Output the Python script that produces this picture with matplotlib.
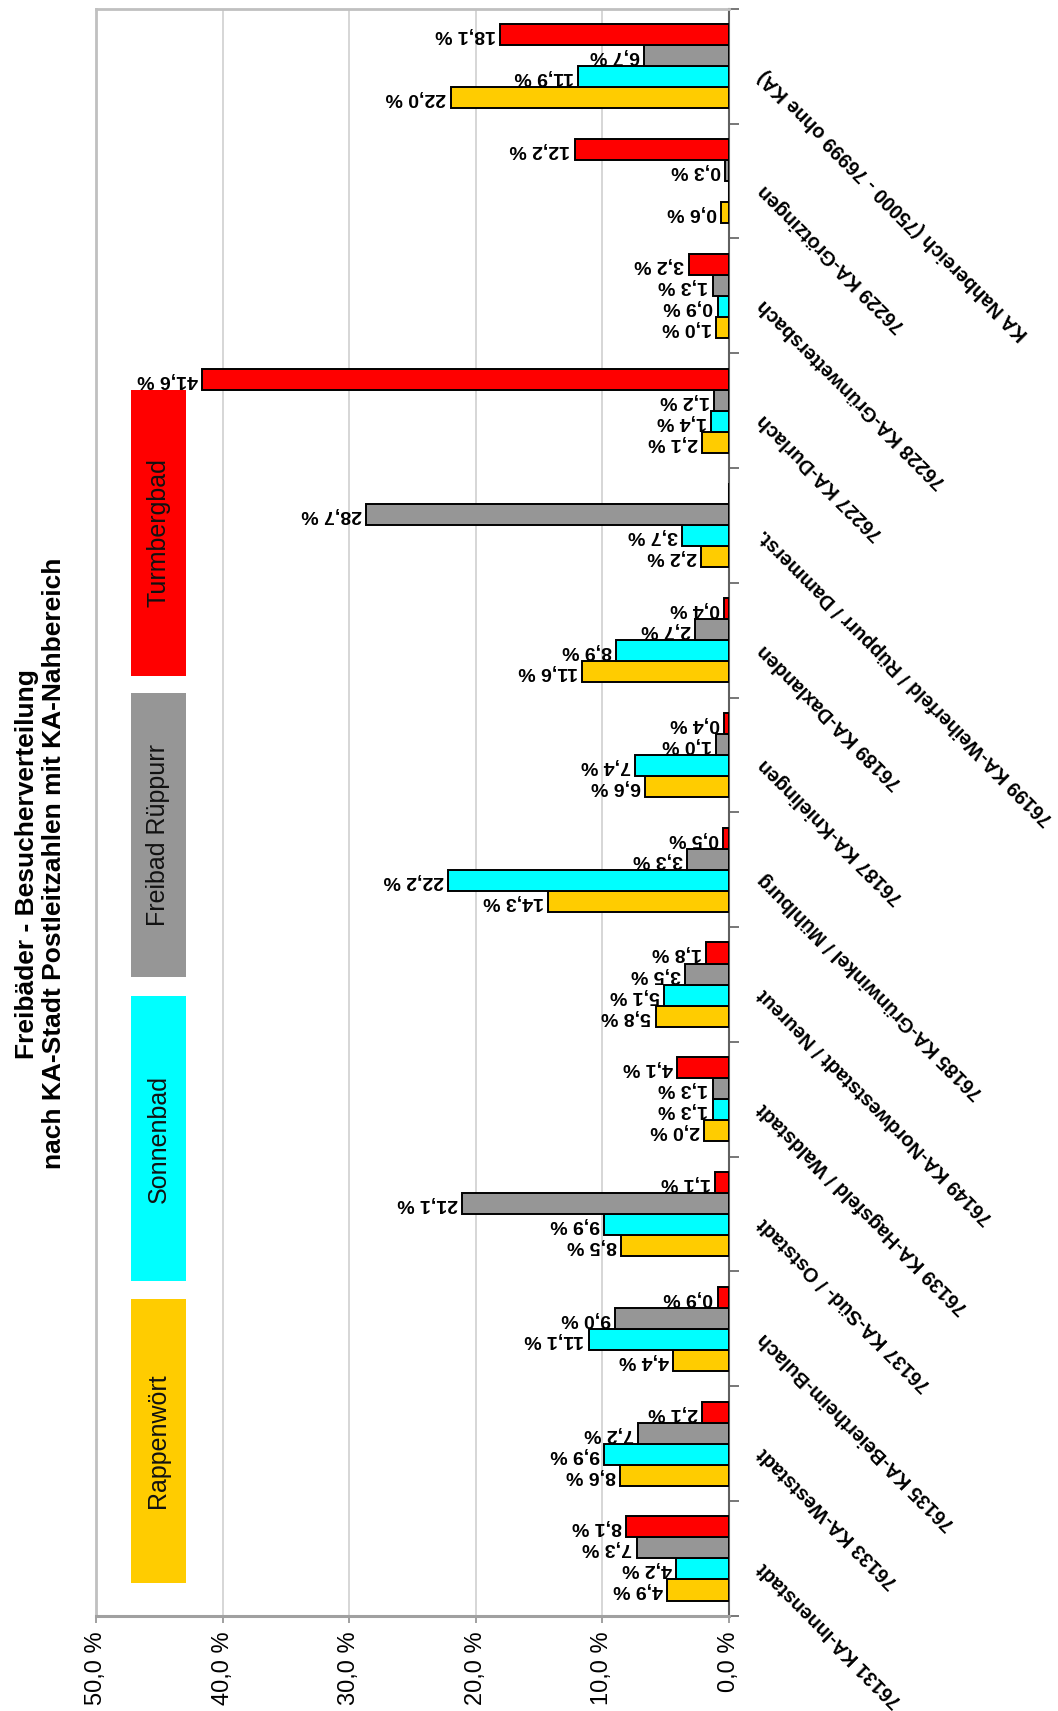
import numpy as np
import matplotlib
matplotlib.use("Agg")
import matplotlib.pyplot as plt
from matplotlib.patches import Rectangle

plt.rcParams['font.family'] = ['Liberation Sans', 'DejaVu Sans']

# categories from bottom to top (chart is drawn turned on its side)
categories = [
    "76131 KA-Innenstadt",
    "76133 KA-Weststadt",
    "76135 KA-Beiertheim-Bulach",
    "76137 KA-Süd- / Oststadt",
    "76139 KA-Hagsfeld / Waldstadt",
    "76149 KA-Nordweststadt / Neureut",
    "76185 KA-Grünwinkel / Mühlburg",
    "76187 KA-Knielingen",
    "76189 KA-Daxlanden",
    "76199 KA-Weiherfeld / Rüppurr / Dammerst.",
    "76227 KA-Durlach",
    "76228 KA-Grünwettersbach",
    "76229 KA-Grötzingen",
    "KA Nahbereich (75000 - 76999 ohne KA)",
]
rappenwoert = [4.9, 8.6, 4.4, 8.5, 2.0, 5.8, 14.3, 6.6, 11.6, 2.2, 2.1, 1.0, 0.6, 22.0]
sonnenbad = [4.2, 9.9, 11.1, 9.9, 1.3, 5.1, 22.2, 7.4, 8.9, 3.7, 1.4, 0.9, np.nan, 11.9]
rueppurr = [7.3, 7.2, 9.0, 21.1, 1.3, 3.5, 3.3, 1.0, 2.7, 28.7, 1.2, 1.3, 0.3, 6.7]
turmberg = [8.1, 2.1, 0.9, 1.1, 4.1, 1.8, 0.5, 0.4, 0.4, np.nan, 41.6, 3.2, 12.2, 18.1]

series = [
    ("Rappenwört", rappenwoert, "#FFCC00"),
    ("Sonnenbad", sonnenbad, "#00FFFF"),
    ("Freibad Rüppurr", rueppurr, "#969696"),
    ("Turmbergbad", turmberg, "#FF0000"),
]
xticks = [0, 10, 20, 30, 40, 50]

W, H = 968.0, 1565.0  # frame used for measuring positions


def fx(px):
    return px / W


def fy(py):
    return 1 - py / H


fig = plt.figure(figsize=(10.58, 17.11), dpi=100)
ax = fig.add_axes([fx(88), fy(1478), fx(667) - fx(88), fy(8) - fy(1478)])

y = np.arange(len(categories))
bh = 0.183
for i, (name, vals, col) in enumerate(series):
    off = (i - 1.5) * bh
    v = np.array(vals, dtype=float)
    ax.barh(y + off, np.nan_to_num(v), height=bh, color=col,
            edgecolor="black", linewidth=1.4, zorder=3)
    for yi, val in zip(y, v):
        if np.isnan(val):
            continue
        ax.annotate(f"{val:.1f}".replace(".", ",") + " %", xy=(val, yi + off),
                    xytext=(-3, 0), textcoords="offset points",
                    rotation=180, rotation_mode="anchor", ha="left", va="center",
                    fontsize=14, fontweight="bold", zorder=4)

ax.set_xlim(50, 0)
ax.set_ylim(-0.5, len(categories) - 0.5)
ax.set_xticks(xticks)
ax.set_xticklabels([f"{t:.1f}".replace(".", ",") + " %" for t in xticks],
                   rotation=90, fontsize=17)
ax.tick_params(axis="x", direction="out", length=5, width=1.2, color="#909090", pad=6)
ax.grid(axis="x", color="#d0d0d0", linewidth=1.2, zorder=0)

ax.yaxis.tick_right()
ax.set_yticks(np.arange(-0.5, len(categories), 1.0))
ax.set_yticklabels([])
ax.tick_params(axis="y", direction="out", length=7, width=1.2, color="#606060")

for s in ("left", "top"):
    ax.spines[s].set_color("#c0c0c0")
    ax.spines[s].set_linewidth(2)
ax.spines["bottom"].set_color("#a0a0a0")
ax.spines["bottom"].set_linewidth(2.2)
ax.spines["right"].set_color("#606060")
ax.spines["right"].set_linewidth(1.5)

for yi, cat in zip(y, categories):
    ax.annotate(cat, xy=(1, yi), xycoords=("axes fraction", "data"),
                xytext=(23, -5), textcoords="offset points",
                rotation=135, rotation_mode="anchor", ha="right", va="center",
                fontsize=14.2, fontweight="bold", annotation_clip=False)

# legend boxes
boxes = [(1188, 1448), (911, 1172), (634, 894), (357, 618)]
for (name, vals, col), (top, bot) in zip(series, boxes):
    fig.patches.append(Rectangle((fx(120), fy(bot)), fx(170) - fx(120), fy(top) - fy(bot),
                                 transform=fig.transFigure, facecolor=col,
                                 edgecolor="none", zorder=5))
    fig.text(fx(145), (fy(top) + fy(bot)) / 2, name, rotation=90,
             ha="center", va="center", fontsize=18, color="#111111", zorder=6)

fig.text(fx(37), fy(790), "Freibäder - Besucherverteilung\nnach KA-Stadt Postleitzahlen mit KA-Nahbereich",
         rotation=90, ha="center", va="center", multialignment="center",
         fontsize=19, fontweight="bold", linespacing=1.2)

fig.savefig("out.png", dpi=100)
